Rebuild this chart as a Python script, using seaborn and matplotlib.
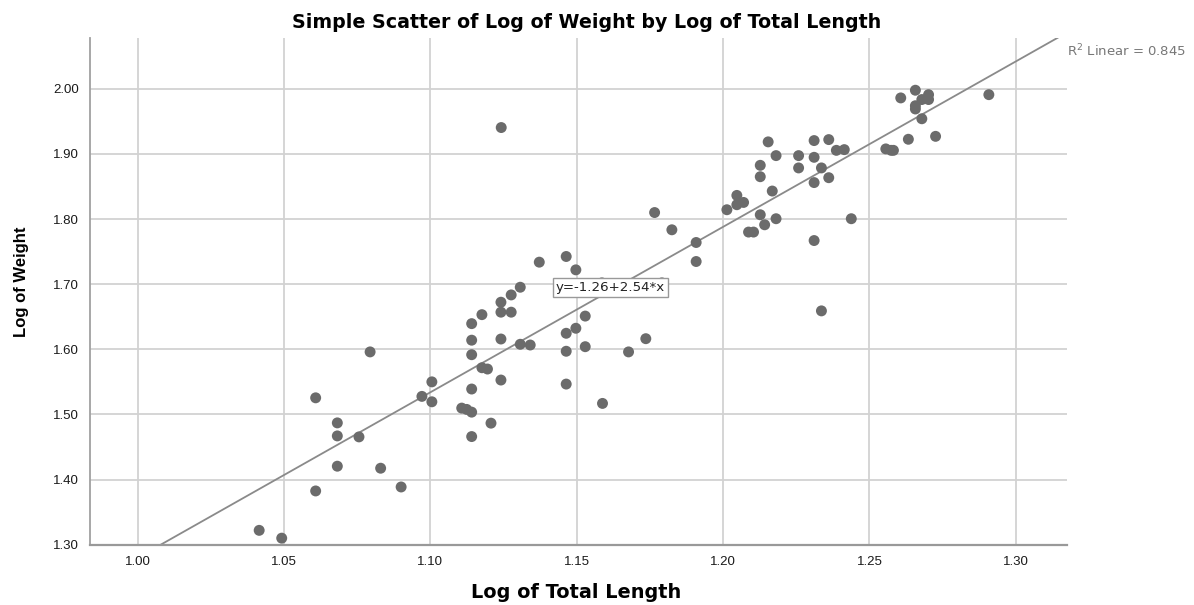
import numpy as np
import pandas as pd
import matplotlib
matplotlib.use("Agg")
import matplotlib.pyplot as plt
import seaborn as sns

# values
log_length = [
    1.0415, 1.0492, 1.0608, 1.0608, 1.0682, 1.0682, 1.0682, 1.0756, 1.0794, 1.0830,
    1.0900, 1.0971, 1.1005, 1.1005, 1.1107, 1.1124, 1.1141, 1.1141, 1.1141, 1.1141,
    1.1141, 1.1141, 1.1176, 1.1195, 1.1176, 1.1207, 1.1241, 1.1241, 1.1241, 1.1241,
    1.1242, 1.1276, 1.1276, 1.1307, 1.1307, 1.1341, 1.1372, 1.1464, 1.1464, 1.1464,
    1.1464, 1.1497, 1.1497, 1.1529, 1.1529, 1.1586, 1.1588, 1.1677, 1.1736, 1.1766,
    1.1791, 1.1825, 1.1908, 1.1908, 1.2013, 1.2047, 1.2047, 1.2070, 1.2087, 1.2104,
    1.2127, 1.2127, 1.2127, 1.2142, 1.2154, 1.2168, 1.2181, 1.2181, 1.2258, 1.2258,
    1.2311, 1.2311, 1.2311, 1.2311, 1.2336, 1.2336, 1.2361, 1.2361, 1.2387, 1.2414,
    1.2438, 1.2556, 1.2574, 1.2582, 1.2607, 1.2633, 1.2657, 1.2657, 1.2657, 1.2679,
    1.2679, 1.2702, 1.2702, 1.2726, 1.2908,
]
log_weight = [
    1.322, 1.310, 1.5255, 1.3825, 1.487, 1.467, 1.4205, 1.4655, 1.596, 1.4174,
    1.3886, 1.5277, 1.550, 1.5194, 1.5097, 1.5077, 1.5035, 1.466, 1.539, 1.5917,
    1.614, 1.6394, 1.6532, 1.5697, 1.5717, 1.4866, 1.6723, 1.657, 1.6158, 1.5528,
    1.9405, 1.6835, 1.657, 1.6953, 1.6077, 1.6066, 1.7338, 1.7425, 1.6246, 1.597,
    1.5466, 1.6323, 1.722, 1.651, 1.604, 1.702, 1.5169, 1.596, 1.6163, 1.810,
    1.702, 1.7835, 1.764, 1.7348, 1.8143, 1.8363, 1.822, 1.8255, 1.780, 1.780,
    1.8825, 1.865, 1.8066, 1.7912, 1.9185, 1.843, 1.8974, 1.8005, 1.8974, 1.8785,
    1.9205, 1.8948, 1.856, 1.767, 1.8785, 1.659, 1.922, 1.8635, 1.9055, 1.9066,
    1.8005, 1.9077, 1.9055, 1.9055, 1.986, 1.9225, 1.9978, 1.974, 1.969, 1.9835,
    1.954, 1.991, 1.9835, 1.927, 1.991,
]

# fit line as reported on the chart
intercept = -1.26
slope = 2.54
r2 = 0.845

x_ticks = [1.00, 1.05, 1.10, 1.15, 1.20, 1.25, 1.30]
y_ticks = [1.30, 1.40, 1.50, 1.60, 1.70, 1.80, 1.90, 2.00]

df = pd.DataFrame({"Log of Total Length": log_length, "Log of Weight": log_weight})

sns.set_style("white")
plt.rcParams["font.family"] = ["Liberation Sans", "DejaVu Sans"]

fig = plt.figure(figsize=(11.94, 6.05), dpi=100)
ax = fig.add_axes([90 / 1194, 60 / 605, 977 / 1194, 507 / 605])

ax.set_xlim(0.9837, 1.3175)
ax.set_ylim(1.2995, 2.078)

ax.set_xticks(x_ticks)
ax.set_yticks(y_ticks)
ax.set_xticklabels([f"{t:.2f}" for t in x_ticks])
ax.set_yticklabels([f"{t:.2f}" for t in y_ticks])
ax.grid(True, color="#d2d2d2", linewidth=1.3)
ax.set_axisbelow(True)

sns.scatterplot(data=df, x="Log of Total Length", y="Log of Weight", ax=ax,
                color="#6b6b6b", s=62, edgecolor="none", zorder=3)

# regression line across the whole axis range, clipped to the axes
xs = np.array(ax.get_xlim())
ax.plot(xs, intercept + slope * xs, color="#8a8a8a", linewidth=1.3, zorder=2)
ax.set_xlim(0.9837, 1.3175)
ax.set_ylim(1.2995, 2.078)

ax.text(1.1614, 1.695, "y=-1.26+2.54*x", fontsize=9.6, color="#222222",
        family="DejaVu Sans", ha="center", va="center", zorder=5,
        bbox=dict(boxstyle="square,pad=0.22", facecolor="white", edgecolor="#999999", linewidth=1))

fig.text(1067 / 1194, 1 - 51 / 605, f"R$^2$ Linear = {r2}", fontsize=9.5, color="#777777",
         family="DejaVu Sans", ha="left", va="center")

for side in ["top", "right"]:
    ax.spines[side].set_visible(False)
ax.spines["left"].set_color("#a0a0a0")
ax.spines["bottom"].set_color("#999999")
ax.spines["left"].set_linewidth(1.3)
ax.spines["bottom"].set_linewidth(1.6)
ax.tick_params(length=0, labelsize=9.5, colors="#1a1a1a", pad=8)

ax.set_xlabel("")
ax.set_ylabel("")
fig.text(576 / 1194, 1 - 593 / 605, "Log of Total Length", fontsize=13.9, fontweight="bold",
         family="DejaVu Sans", color="black", ha="center", va="center")
fig.text(22 / 1194, 1 - 282 / 605, "Log of Weight", fontsize=12, fontweight="bold",
         color="black", ha="center", va="center", rotation=90)
fig.text(587 / 1194, 1 - 22 / 605, "Simple Scatter of Log of Weight by Log of Total Length",
         fontsize=13.7, fontweight="bold", family="DejaVu Sans", color="black",
         ha="center", va="center")

fig.savefig("out.png", dpi=100)
